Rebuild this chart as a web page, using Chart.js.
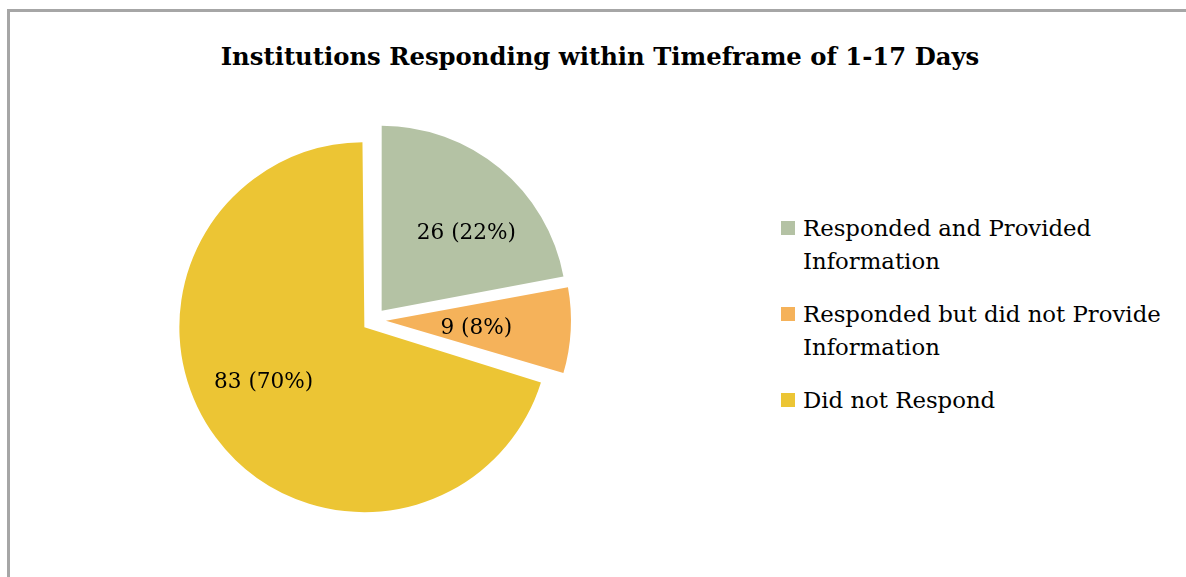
<!DOCTYPE html>
<html>
<head>
<meta charset="utf-8">
<script src="https://cdn.jsdelivr.net/npm/chart.js@4.4.0/dist/chart.umd.min.js"></script>
<style>
body{margin:0;width:1186px;height:577px;overflow:hidden;background:#fff;font-family:"DejaVu Serif",serif;color:#000;}
#frame{position:absolute;left:7px;top:9px;width:1300px;height:700px;border-left:3px solid #a6a6a6;border-top:3px solid #a6a6a6;}
#title{position:absolute;left:0;width:1200px;top:41px;text-align:center;font-weight:bold;font-size:24.3px;line-height:32px;white-space:nowrap;}
#pieWrap{position:absolute;left:154px;top:100px;width:440px;height:440px;}
#legend{position:absolute;left:781px;top:212px;margin:0;padding:0;list-style:none;width:400px;}
#legend li{display:flex;align-items:flex-start;margin-bottom:20px;font-size:22.8px;line-height:33px;}
#legend .box{flex:none;width:14px;height:14px;margin-top:9px;margin-right:8px;}
</style>
</head>
<body>
<div id="frame"></div>
<div id="title">Institutions Responding within Timeframe of 1-17 Days</div>
<div id="pieWrap"><canvas id="pie" width="440" height="440"></canvas></div>
<ul id="legend"></ul>
<script>
// dati
const labels = ['Responded and Provided Information', 'Responded but did not Provide Information', 'Did not Respond'];
const counts = [26, 9, 83];
const colors = ['#b4c2a4', '#f5b25a', '#ecc534'];

// posizione etichette: frazione del raggio, spostamento angolare (gradi)
const labelRadius = [0.62, 0.49, 0.62];
const labelNudge = [8, 2, 8];

const explode = 48;   // chart.js trasla di offset/4
const pieRadius = 185;

const total = counts.reduce((a, b) => a + b, 0);

// legenda html
document.getElementById('legend').innerHTML = labels.map((l, i) =>
    `<li><span class="box" style="background:${colors[i]}"></span><span>${l}</span></li>`).join('');

// chart.js allarga le fette con offset, riporto il raggio a quello voluto
const fixRadius = {
    id: 'fixRadius',
    afterDatasetUpdate(chart, args){
        args.meta.data.forEach(arc => {
            const fix = 1 - Math.sin(Math.min(Math.PI, arc.circumference));
            arc.outerRadius = pieRadius - (explode / 4) * fix;
        });
    }
};

// etichette dentro le fette
const sliceLabels = {
    id: 'sliceLabels',
    afterDatasetsDraw(chart){
        const ctx = chart.ctx;
        const meta = chart.getDatasetMeta(0);
        ctx.save();
        ctx.font = '21.6px "DejaVu Serif"';
        ctx.fillStyle = '#000';
        ctx.textAlign = 'center';
        ctx.textBaseline = 'middle';
        meta.data.forEach((arc, i) => {
            const mid = (arc.startAngle + arc.endAngle) / 2;
            const cx = arc.x + Math.cos(mid) * explode / 4;
            const cy = arc.y + Math.sin(mid) * explode / 4;
            const a = mid + labelNudge[i] * Math.PI / 180;
            const r = pieRadius * labelRadius[i];
            const pct = Math.round(counts[i] / total * 100);
            ctx.fillText(`${counts[i]} (${pct}%)`, cx + Math.cos(a) * r, cy + Math.sin(a) * r);
        });
        ctx.restore();
    }
};

new Chart(document.getElementById('pie'), {
    type: 'pie',
    data: {
        labels: labels,
        datasets: [{
            data: counts,
            backgroundColor: colors,
            borderWidth: 0,
            offset: explode,
            radius: pieRadius
        }]
    },
    options: {
        responsive: false,
        animation: false,
        events: [],
        layout: { padding: 0 },
        plugins: {
            legend: { display: false },
            title: { display: false },
            tooltip: { enabled: false }
        }
    },
    plugins: [fixRadius, sliceLabels]
});
</script>
</body>
</html>
